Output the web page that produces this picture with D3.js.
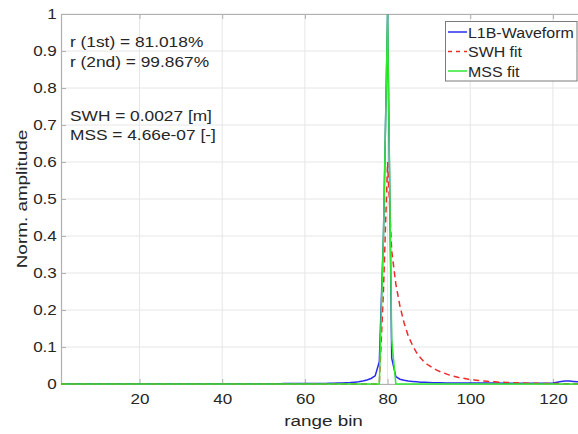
<!DOCTYPE html>
<html>
<head>
<meta charset="utf-8">
<script src="https://cdn.jsdelivr.net/npm/d3@7"></script>
<style>
    body { margin: 0; background: #fff; }
    svg { display: block; font-family: "Liberation Sans", Arial, sans-serif; }
</style>
</head>
<body>
<div class="viz"></div>
<script>
// range bins 1..128
var bins = d3.range(1, 129);

// L1B waveform (bins 1..128)
var l1b = [
    0.001, 0.001, 0.001, 0.001, 0.001, 0.001, 0.001, 0.001, 0.001, 0.001,
    0.001, 0.001, 0.001, 0.001, 0.001, 0.001, 0.001, 0.001, 0.001, 0.001,
    0.001, 0.001, 0.001, 0.001, 0.001, 0.001, 0.001, 0.001, 0.001, 0.001,
    0.001, 0.001, 0.001, 0.001, 0.001, 0.001, 0.001, 0.001, 0.001, 0.001,
    0.001, 0.001, 0.001, 0.001, 0.001, 0.001, 0.001, 0.001, 0.001, 0.001,
    0.001, 0.001, 0.001, 0.001, 0.0015, 0.0015, 0.0015, 0.0015, 0.0015, 0.0015,
    0.0015, 0.0015, 0.0015, 0.0015, 0.0015, 0.002, 0.002, 0.0025, 0.003, 0.0035,
    0.004, 0.005, 0.006, 0.008, 0.011, 0.015, 0.022, 0.06, 0.40, 1.0,
    0.07, 0.02, 0.013, 0.01, 0.008, 0.007, 0.006, 0.005, 0.0045, 0.004,
    0.0035, 0.0035, 0.0035, 0.003, 0.003, 0.003, 0.003, 0.003, 0.003, 0.003,
    0.0025, 0.0025, 0.0025, 0.0025, 0.0025, 0.0025, 0.0025, 0.002, 0.002, 0.002,
    0.002, 0.002, 0.002, 0.002, 0.002, 0.002, 0.002, 0.002, 0.002, 0.003,
    0.005, 0.007, 0.008, 0.008, 0.007, 0.006, 0.006, 0.005
];

// SWH fit (red dashed)
var swh = [
    0, 0, 0, 0, 0, 0, 0, 0, 0, 0,
    0, 0, 0, 0, 0, 0, 0, 0, 0, 0,
    0, 0, 0, 0, 0, 0, 0, 0, 0, 0,
    0, 0, 0, 0, 0, 0, 0, 0, 0, 0,
    0, 0, 0, 0, 0, 0, 0, 0, 0, 0,
    0, 0, 0, 0, 0, 0, 0, 0, 0, 0,
    0, 0, 0, 0, 0, 0, 0, 0, 0, 0,
    0, 0, 0, 0, 0, 0, 0, 0, 0.25, 0.6,
    0.36, 0.27, 0.21, 0.165, 0.13, 0.105, 0.085, 0.07, 0.058, 0.05,
    0.043, 0.037, 0.032, 0.028, 0.024, 0.021, 0.018, 0.016, 0.014, 0.012,
    0.011, 0.0095, 0.0085, 0.0075, 0.0066, 0.0058, 0.005, 0.0045, 0.004, 0.0035,
    0.0032, 0.0029, 0.0026, 0.0023, 0.002, 0.0018, 0.0016, 0.0014, 0.0013, 0.0012,
    0.0011, 0.001, 0.0009, 0.0009, 0.0008, 0.0007, 0.0007, 0.0006
];

// MSS fit (green)
var mss = [
    0, 0, 0, 0, 0, 0, 0, 0, 0, 0,
    0, 0, 0, 0, 0, 0, 0, 0, 0, 0,
    0, 0, 0, 0, 0, 0, 0, 0, 0, 0,
    0, 0, 0, 0, 0, 0, 0, 0, 0, 0,
    0, 0, 0, 0, 0, 0, 0, 0, 0, 0,
    0, 0, 0, 0, 0, 0, 0, 0, 0, 0,
    0, 0, 0, 0, 0, 0, 0, 0, 0, 0,
    0, 0, 0, 0, 0, 0, 0, 0, 0.40, 1.0,
    0.12, 0, 0, 0, 0, 0, 0, 0, 0, 0,
    0, 0, 0, 0, 0, 0, 0, 0, 0, 0,
    0, 0, 0, 0, 0, 0, 0, 0, 0, 0,
    0, 0, 0, 0, 0, 0, 0, 0, 0, 0,
    0, 0, 0, 0, 0, 0, 0, 0
];

var xTicks = [20, 40, 60, 80, 100, 120];
var yTicks = [0, 0.1, 0.2, 0.3, 0.4, 0.5, 0.6, 0.7, 0.8, 0.9, 1];

var seriesNames = ["L1B-Waveform", "SWH fit", "MSS fit"];
var seriesColors = ["#2b2bee", "#ee2b2b", "#30e830"];
var seriesDash = [null, "6,4", null];

var infoLines = [
    ["r (1st) = 81.018%", "r (2nd) = 99.867%"],
    ["SWH = 0.0027 [m]", "MSS = 4.66e-07 [-]"]
];

var W = 578, H = 434,
    margin = { top: 14, left: 61 },
    plotRight = 586,
    plotBottom = 384,
    stretch = 1.22,   // the glyphs in the picture are wider than Arial
    axisColor = "#b0b0b0",
    textColor = "#262626";

var x = d3.scaleLinear().domain([1, 128]).range([margin.left, plotRight]);
var y = d3.scaleLinear().domain([0, 1]).range([plotBottom, margin.top]);

var svg = d3.select(".viz").append("svg")
    .attr("width", W)
    .attr("height", H);

svg.append("rect").attr("width", W).attr("height", H).attr("fill", "#fff");

// grid
var grid = svg.append("g").attr("class", "grid");
grid.selectAll("line.gx").data(xTicks).enter().append("line")
    .attr("x1", d => x(d)).attr("x2", d => x(d))
    .attr("y1", y(0)).attr("y2", y(1))
    .attr("stroke", "#e6e6e6").attr("stroke-width", 1);
grid.selectAll("line.gy").data(yTicks).enter().append("line")
    .attr("x1", x(1)).attr("x2", x(128))
    .attr("y1", d => y(d)).attr("y2", d => y(d))
    .attr("stroke", "#e6e6e6").attr("stroke-width", 1);

// axes (box on, ticks inward)
var gx = svg.append("g")
    .attr("transform", `translate(0,${plotBottom})`)
    .call(d3.axisBottom(x).tickValues(xTicks).tickSize(-5).tickSizeOuter(0).tickPadding(10));
var gxTop = svg.append("g")
    .attr("transform", `translate(0,${margin.top})`)
    .call(d3.axisTop(x).tickValues(xTicks).tickSize(-5).tickSizeOuter(0).tickFormat(""));
var gy = svg.append("g")
    .attr("transform", `translate(${margin.left},0)`)
    .call(d3.axisLeft(y).tickValues(yTicks).tickSize(-5).tickSizeOuter(0).tickFormat(d3.format("~g")));

[gx, gxTop, gy].forEach((g) => {
    g.select(".domain").attr("stroke", axisColor).attr("stroke-width", 1.2);
    g.selectAll(".tick line").attr("stroke", axisColor);
    g.selectAll("text")
        .attr("fill", textColor)
        .style("font-size", "14px")
        .style("font-family", "'Liberation Sans', Arial, sans-serif");
});
gx.selectAll(".tick text").attr("transform", `scale(${stretch},1)`);
gy.selectAll(".tick text").attr("x", -3.4).attr("transform", `scale(${stretch},1)`);

// lines
var line = d3.line().x((d, i) => x(bins[i])).y((d) => y(d));
var plotData = [l1b, swh, mss];
svg.append("g").attr("class", "series")
    .selectAll("path")
    .data(plotData)
    .enter()
    .append("path")
    .attr("d", line)
    .attr("fill", "none")
    .attr("stroke", (d, i) => seriesColors[i])
    .attr("stroke-width", 1.5)
    .attr("stroke-dasharray", (d, i) => seriesDash[i]);

// text helper, stretched horizontally
function label(txt, px, py, size, anchor, rotate, sx) {
    return svg.append("text")
        .attr("transform", `translate(${px},${py})` + (rotate ? ` rotate(${rotate})` : "") + ` scale(${sx || stretch},1)`)
        .attr("text-anchor", anchor || "start")
        .attr("fill", textColor)
        .style("font-size", size + "px")
        .text(txt);
}

// info text
label(infoLines[0][0], 70, 47, 14.2);
label(infoLines[0][1], 70, 66.5, 14.2);
label(infoLines[1][0], 70, 121, 14.2);
label(infoLines[1][1], 70, 140, 14.2);

// axis labels
label("range bin", (margin.left + plotRight) / 2, 426, 15.5, "middle");
label("Norm. amplitude", 27, (margin.top + plotBottom) / 2, 15.5, "middle", -90);

// legend
var legend = svg.append("g").attr("class", "legend");
legend.append("rect")
    .attr("x", 445.5).attr("y", 21.5)
    .attr("width", 131.5).attr("height", 59.5)
    .attr("fill", "#fff")
    .attr("stroke", "#7a7a7a")
    .attr("stroke-width", 1);
seriesNames.forEach((name, i) => {
    var ly = 32 + i * 19.5;
    legend.append("line")
        .attr("x1", 448).attr("x2", 467)
        .attr("y1", ly).attr("y2", ly)
        .attr("stroke", seriesColors[i])
        .attr("stroke-width", 1.5)
        .attr("stroke-dasharray", seriesDash[i] ? "4,4" : null);
    label(name, 468, ly + 5.5, 14.5, "start", null, 1.1);
});
</script>
</body>
</html>
